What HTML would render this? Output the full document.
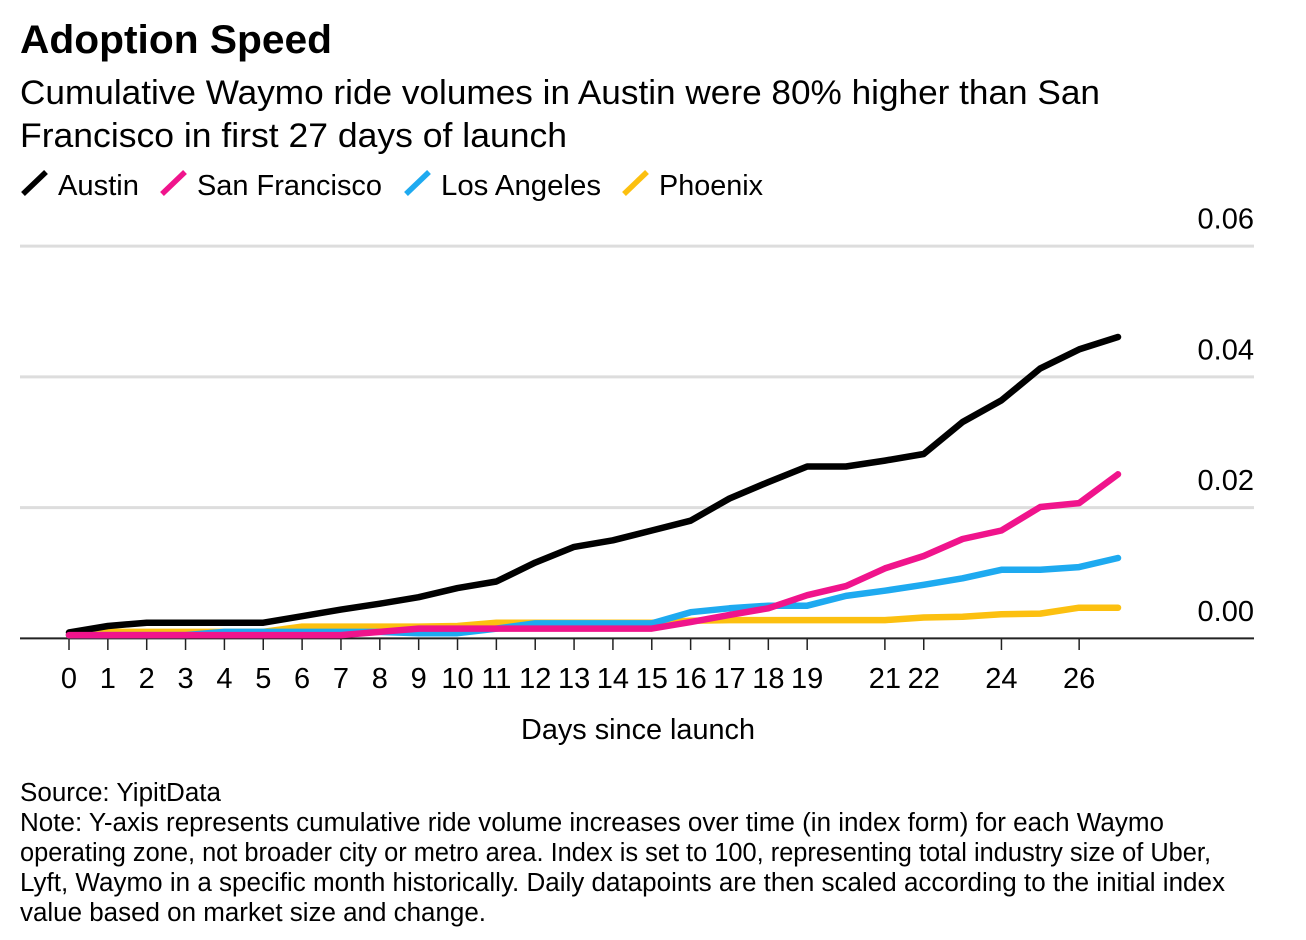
<!DOCTYPE html>
<html lang="en">
<head>
<meta charset="utf-8">
<title>Adoption Speed</title>
<style>
html,body{margin:0;padding:0;background:#fff;width:1306px;height:940px;overflow:hidden}
svg{display:block;font-family:"Liberation Sans",Arial,sans-serif;fill:#000}
</style>
</head>
<body>
<svg id="chart" xmlns="http://www.w3.org/2000/svg" width="1306" height="940" viewBox="0 0 1306 940">
  <rect x="0" y="0" width="1306" height="940" fill="#fff"/>
  <text x="20" y="53" font-size="40" font-weight="700" textLength="312" lengthAdjust="spacingAndGlyphs">Adoption Speed</text>
  <text x="20" y="104" font-size="34" textLength="1080" lengthAdjust="spacingAndGlyphs">Cumulative Waymo ride volumes in Austin were 80% higher than San</text>
  <text x="20" y="147" font-size="34" textLength="547" lengthAdjust="spacingAndGlyphs">Francisco in first 27 days of launch</text>

  <g font-size="29">
    <g>
      <line x1="23" y1="194" x2="46" y2="172" stroke="#000" stroke-width="5.5"/>
      <text x="58" y="195" textLength="81" lengthAdjust="spacingAndGlyphs">Austin</text>
    </g>
    <g>
      <line x1="162" y1="194" x2="185" y2="172" stroke="#f0148c" stroke-width="5.5"/>
      <text x="197" y="195" textLength="185" lengthAdjust="spacingAndGlyphs">San Francisco</text>
    </g>
    <g>
      <line x1="406" y1="194" x2="429" y2="172" stroke="#1eaaf0" stroke-width="5.5"/>
      <text x="441" y="195" textLength="160" lengthAdjust="spacingAndGlyphs">Los Angeles</text>
    </g>
    <g>
      <line x1="624" y1="194" x2="647" y2="172" stroke="#fcc010" stroke-width="5.5"/>
      <text x="659" y="195" textLength="104" lengthAdjust="spacingAndGlyphs">Phoenix</text>
    </g>
  </g>

  <g id="y-grid"></g>
  <g id="x-axis"></g>
  <g id="series"></g>

  <text x="638" y="739" font-size="29" text-anchor="middle" textLength="234" lengthAdjust="spacingAndGlyphs">Days since launch</text>

  <g font-size="25.5">
    <text x="20" y="801" textLength="201" lengthAdjust="spacingAndGlyphs">Source: YipitData</text>
    <text x="20" y="831" textLength="1144" lengthAdjust="spacingAndGlyphs">Note: Y-axis represents cumulative ride volume increases over time (in index form) for each Waymo</text>
    <text x="20" y="861" textLength="1191" lengthAdjust="spacingAndGlyphs">operating zone, not broader city or metro area. Index is set to 100, representing total industry size of Uber,</text>
    <text x="20" y="891" textLength="1205" lengthAdjust="spacingAndGlyphs">Lyft, Waymo in a specific month historically. Daily datapoints are then scaled according to the initial index</text>
    <text x="20" y="921" textLength="466" lengthAdjust="spacingAndGlyphs">value based on market size and change.</text>
  </g>
</svg>
<script>
const days = [0,1,2,3,4,5,6,7,8,9,10,11,12,13,14,15,16,17,18,19,20,21,22,23,24,25,26,27];
const xTickLabels = [0,1,2,3,4,5,6,7,8,9,10,11,12,13,14,15,16,17,18,19,21,22,24,26];
const yTickValues = [0,0.02,0.04,0.06];
const yTickLabels = ["0.00","0.02","0.04","0.06"];
const phoenixValues = [0.0005,0.0010,0.0010,0.0010,0.0010,0.0010,0.0018,0.0018,0.0018,0.0018,0.0019,0.0024,0.0024,0.0024,0.0024,0.0024,0.0027,0.0028,0.0028,0.0028,0.0028,0.0028,0.0032,0.0033,0.0037,0.0038,0.0047,0.0047];
const losAngelesValues = [0.0005,0.0005,0.0005,0.0005,0.0010,0.0010,0.0010,0.0010,0.0010,0.0008,0.0008,0.0015,0.0023,0.0023,0.0023,0.0023,0.0040,0.0046,0.0050,0.0050,0.0065,0.0073,0.0082,0.0092,0.0105,0.0105,0.0109,0.0123];
const sanFranciscoValues = [0.0005,0.0005,0.0005,0.0005,0.0005,0.0005,0.0005,0.0005,0.0010,0.0015,0.0015,0.0015,0.0015,0.0015,0.0015,0.0015,0.0025,0.0036,0.0046,0.0066,0.0080,0.0107,0.0126,0.0152,0.0165,0.0201,0.0207,0.0251];
const austinValues = [0.0009,0.0019,0.0024,0.0024,0.0024,0.0024,0.0034,0.0044,0.0053,0.0063,0.0077,0.0087,0.0116,0.0140,0.0150,0.0165,0.0180,0.0214,0.0239,0.0263,0.0263,0.0272,0.0282,0.0331,0.0364,0.0413,0.0442,0.0461];

const NS = 'http://www.w3.org/2000/svg';
const xScale = d => 69 + d * (1118 - 69) / 27;
const yScale = v => 638.4 - v * 6538;

const yGroup = document.getElementById('y-grid');
yTickValues.forEach((v, i) => {
  const y = yScale(v);
  if (v !== 0) {
    const grid = document.createElementNS(NS, 'line');
    
    
    grid.setAttribute('x1', 20);
    grid.setAttribute('x2', 1254);
    grid.setAttribute('y1', y);
    grid.setAttribute('y2', y);
    grid.setAttribute('stroke', '#dddddd');
    grid.setAttribute('stroke-width', 3);
    yGroup.appendChild(grid);
  }
  const label = document.createElementNS(NS, 'text');
  
  
  label.setAttribute('x', 1254);
  label.setAttribute('y', y - 17.5);
  label.setAttribute('font-size', 29);
  label.setAttribute('text-anchor', 'end');
  label.textContent = yTickLabels[i];
  yGroup.appendChild(label);
});

const xGroup = document.getElementById('x-axis');
const axis = document.createElementNS(NS, 'line');


axis.setAttribute('x1', 20);
axis.setAttribute('x2', 1254);
axis.setAttribute('y1', yScale(0));
axis.setAttribute('y2', yScale(0));
axis.setAttribute('stroke', '#222');
axis.setAttribute('stroke-width', 2);
xGroup.appendChild(axis);
xTickLabels.forEach(d => {
  const x = xScale(d);
  const tick = document.createElementNS(NS, 'line');
  
  
  tick.setAttribute('x1', x);
  tick.setAttribute('x2', x);
  tick.setAttribute('y1', 638);
  tick.setAttribute('y2', 650);
  tick.setAttribute('stroke', '#222');
  tick.setAttribute('stroke-width', 1.5);
  xGroup.appendChild(tick);
  const label = document.createElementNS(NS, 'text');
  
  
  label.setAttribute('x', x);
  label.setAttribute('y', 688);
  label.setAttribute('font-size', 29);
  label.setAttribute('text-anchor', 'middle');
  label.textContent = d;
  xGroup.appendChild(label);
});

const seriesGroup = document.getElementById('series');
function drawSeries(values, color, name) {
  const line = document.createElementNS(NS, 'polyline');
  
  
  line.setAttribute('points', values.map((v, i) => xScale(days[i]).toFixed(1) + ',' + yScale(v).toFixed(1)).join(' '));
  line.setAttribute('fill', 'none');
  line.setAttribute('stroke', color);
  line.setAttribute('stroke-width', 6.5);
  line.setAttribute('stroke-linejoin', 'round');
  line.setAttribute('stroke-linecap', 'round');
  seriesGroup.appendChild(line);
}
drawSeries(phoenixValues, '#fcc010', 'line-phoenix');
drawSeries(losAngelesValues, '#1eaaf0', 'line-los-angeles');
drawSeries(austinValues, '#000000', 'line-austin');
drawSeries(sanFranciscoValues, '#f0148c', 'line-san-francisco');
</script>
</body>
</html>
